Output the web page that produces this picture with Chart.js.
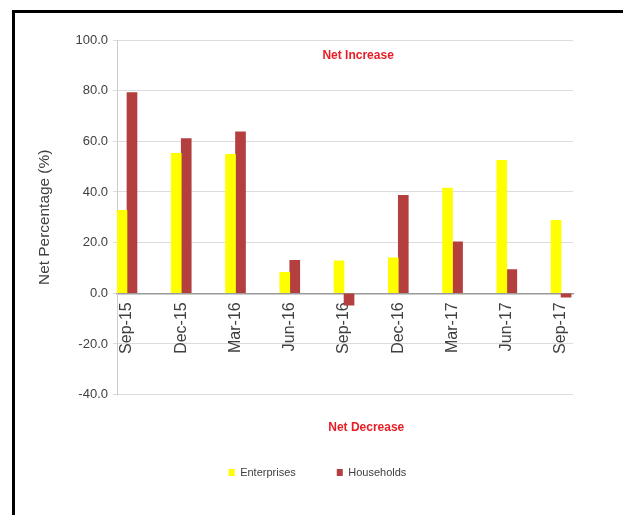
<!DOCTYPE html>
<html>
<head>
<meta charset="utf-8">
<script src="https://cdn.jsdelivr.net/npm/chart.js@4/dist/chart.umd.min.js"></script>
<style>
  body { margin: 0; background: #fff; }
  #wrap { position: relative; width: 623px; height: 515px; }
  #frame { position: absolute; left: 12px; top: 10px; right: 0; bottom: 0; border-top: 3px solid #000; border-left: 3px solid #000; }
  #myChart { position: absolute; left: 0; top: 0; }
</style>
</head>
<body>
<div id="wrap">
  <div id="frame"></div>
  <canvas id="myChart"></canvas>
</div>
<script>
var quarters = ['Sep-15', 'Dec-15', 'Mar-16', 'Jun-16', 'Sep-16', 'Dec-16', 'Mar-17', 'Jun-17', 'Sep-17'];
var enterprises = [32.8, 55.3, 54.9, 8.3, 12.8, 14.0, 41.5, 52.5, 28.8];
var households = [79.2, 61.1, 63.7, 13.0, -4.7, 38.7, 20.3, 9.4, -1.5];
var yMin = -40, yMax = 100, yStep = 20;

var font = '"Liberation Sans", Arial, sans-serif';
var textGrey = '#404040';

function points(values) {
    return values.map(function (v, i) { return { x: i, y: v }; });
}

// red captions above and below the bars
var notes = {
    id: 'notes',
    afterDraw: function (chart) {
        var c = chart.ctx, area = chart.chartArea;
        var x = chart.scales.x, y = chart.scales.y;
        c.save();
        c.font = 'bold 12px ' + font;
        c.fillStyle = '#e61e26';
        c.textAlign = 'center';
        c.textBaseline = 'middle';
        c.fillText('Net Increase', x.getPixelForValue(4.26), y.getPixelForValue(94));
        c.fillText('Net Decrease', x.getPixelForValue(4.41), area.bottom + 33);
        c.restore();
    }
};

var ctx = document.getElementById('myChart').getContext('2d');
var myChart = new Chart(ctx, {
    type: 'bar',
    data: {
        datasets: [
            { label: 'Enterprises', data: points(enterprises), backgroundColor: '#ffff00', borderWidth: 0 },
            { label: 'Households', data: points(households), backgroundColor: '#b33f3f', borderWidth: 0 }
        ]
    },
    options: {
        maintainAspectRatio: false,
        responsive: true,
        animation: false,
        layout: { padding: { left: 62, right: 50, top: 40, bottom: 27 } },
        datasets: { bar: { barThickness: 10 } },
        scales: {
            x: {
                type: 'linear',
                offset: false,
                position: { y: 0 },
                min: -0.184,
                max: 8.22,
                grid: { display: false, drawTicks: false },
                border: { color: '#9a9a9a', width: 1.5 },
                ticks: {
                    stepSize: 1,
                    includeBounds: false,
                    autoSkip: false,
                    minRotation: 90,
                    maxRotation: 90,
                    padding: 9,
                    color: textGrey,
                    font: { family: font, size: 16 },
                    callback: function (v) { return quarters[v]; }
                }
            },
            y: {
                min: yMin,
                max: yMax,
                grid: { color: '#dcdcdc', tickLength: 4 },
                border: { color: '#d2c8cc' },
                ticks: {
                    stepSize: yStep,
                    padding: 5,
                    color: textGrey,
                    font: { family: font, size: 13 },
                    callback: function (v) { return v.toFixed(1); }
                },
                title: {
                    display: true,
                    text: 'Net Percentage (%)',
                    color: textGrey,
                    font: { family: font, size: 15.4 },
                    padding: { top: -26.2, bottom: 0 }
                },
                afterFit: function (scale) { scale.width = 55; }
            }
        },
        plugins: {
            tooltip: { enabled: false },
            legend: {
                position: 'bottom',
                title: { display: true, text: '', padding: { top: 17, bottom: 0 } },
                labels: {
                    boxWidth: 6,
                    boxHeight: 7,
                    padding: 41,
                    color: textGrey,
                    font: { family: font, size: 11 }
                }
            }
        }
    },
    plugins: [notes]
});
</script>
</body>
</html>
